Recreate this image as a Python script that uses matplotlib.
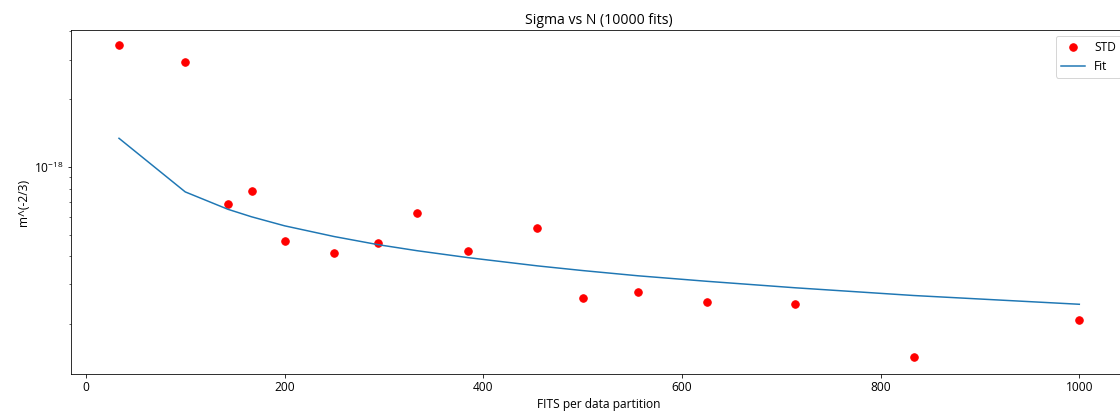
import matplotlib
matplotlib.use("Agg")
import matplotlib.pyplot as plt
from matplotlib.ticker import NullFormatter

# fits per data partition
n_fits = [33.3, 100, 142.9, 166.7, 200, 250, 294.1, 333.3, 384.6, 454.5,
          500, 555.6, 625, 714.3, 833.3, 1000]
# measured standard deviation
std = [3.48e-18, 2.93e-18, 6.85e-19, 7.82e-19, 4.69e-19, 4.15e-19, 4.59e-19,
       6.25e-19, 4.23e-19, 5.36e-19, 2.62e-19, 2.78e-19, 2.51e-19, 2.46e-19,
       1.43e-19, 2.09e-19]
# fitted curve
fit = [1.34e-18, 7.74e-19, 6.48e-19, 6.0e-19, 5.47e-19, 4.9e-19, 4.51e-19,
       4.24e-19, 3.95e-19, 3.63e-19, 3.46e-19, 3.28e-19, 3.1e-19, 2.9e-19,
       2.68e-19, 2.45e-19]

plt.rcParams['font.family'] = ['Open Sans', 'DejaVu Sans']
plt.rcParams['font.size'] = 12

fig = plt.figure(figsize=(1120 / 72, 418 / 72), dpi=72)
ax = fig.add_axes([71 / 1120, 44 / 418, 1056 / 1120, 344 / 418])

ax.plot(n_fits, std, 'o', color='red', markersize=7.5, label='STD')
ax.plot(n_fits, fit, '-', color='#1f77b4', label='Fit')
ax.set_yscale('log')
ax.set_xlim(-15, 1048)
ax.set_ylim(1.2e-19, 4.06e-18)
ax.yaxis.set_minor_formatter(NullFormatter())

ax.set_title('Sigma vs N (10000 fits)', fontsize=14)
ax.set_xlabel('FITS per data partition')
ax.set_ylabel('m^(-2/3)')
ax.legend(loc='upper right')

fig.savefig('out.png', dpi=72)
